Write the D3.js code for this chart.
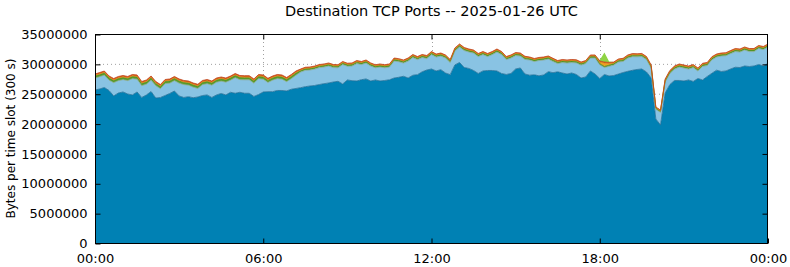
<!DOCTYPE html>
<meta charset="utf-8">
<style>
body { margin: 0; background: #fff; }
text { font-family: "DejaVu Sans", sans-serif; fill: #000; }
.title { font-size: 14.5px; }
.grid line { stroke: #a0a0a0; stroke-width: 1px; stroke-dasharray: 1,3; }
.frame { fill: none; stroke: #000; stroke-width: 1px; }
</style>
<body>
<script src="https://d3js.org/d3.v7.min.js"></script>
<script>

var width = 790,
    height = 267;
var margin = {top: 34, right: 22, bottom: 24, left: 95};

// 10 minute samples, values in millions of bytes per 300 s slot
var startTime = Date.UTC(2025, 0, 26, 0, 0);
var stepMinutes = 10;

var darkBlue = [
  25.62, 25.79, 26.04, 25.54, 24.62, 25.12, 25.29, 24.95, 24.79, 25.29,
  24.37, 24.79, 25.37, 24.28, 24.37, 24.70, 25.04, 25.45, 24.62, 24.37,
  24.50, 24.33, 24.45, 24.70, 24.79, 24.37, 24.79, 25.04, 24.79, 25.24,
  25.07, 25.24, 25.07, 25.07, 24.54, 24.87, 25.29, 25.34, 25.34, 25.54,
  25.54, 25.46, 25.74, 25.88, 26.01, 26.18, 26.29, 26.38, 26.54, 26.68,
  26.80, 26.96, 27.08, 26.63, 27.30, 27.18, 27.13, 27.35, 27.47, 27.13,
  27.30, 27.13, 27.22, 27.33, 27.63, 27.75, 27.92, 27.63, 28.09, 28.19,
  28.67, 28.97, 29.14, 28.81, 29.02, 28.47, 28.19, 29.81, 30.23, 29.39,
  29.23, 28.89, 28.39, 28.81, 28.89, 28.89, 28.81, 28.39, 28.22, 28.39,
  29.14, 29.31, 28.30, 28.10, 28.17, 28.00, 28.14, 28.69, 28.52, 28.67,
  28.47, 28.30, 28.47, 28.22, 27.63, 27.80, 28.81, 28.30, 27.55, 28.22,
  27.97, 28.05, 28.30, 28.55, 28.75, 28.92, 29.06, 29.14, 28.64, 27.63,
  20.77, 19.76, 25.12, 26.54, 27.22, 27.22, 27.13, 27.30, 27.05, 27.55,
  27.30, 27.89, 28.42, 28.94, 28.72, 28.81, 29.14, 29.43, 29.39, 29.64,
  29.56, 29.64, 29.89, 29.64, 30.09
];

var lightBlue = [
  1.98, 2.06, 2.06, 1.73, 2.23, 2.07, 2.06, 2.24, 2.73, 2.15,
  1.98, 1.81, 1.90, 2.07, 1.47, 1.98, 1.73, 1.74, 2.15, 2.15,
  1.93, 1.77, 1.43, 1.82, 1.89, 2.06, 2.14, 2.06, 2.14, 2.03,
  2.62, 2.11, 2.25, 2.25, 2.23, 2.65, 2.15, 1.54, 1.93, 1.98,
  1.90, 1.56, 1.78, 2.22, 2.61, 2.73, 2.67, 2.74, 2.83, 2.78,
  2.83, 2.41, 2.26, 3.25, 2.29, 2.45, 2.91, 2.53, 2.66, 2.50,
  2.04, 2.33, 2.12, 2.13, 2.83, 2.60, 2.21, 2.83, 2.96, 2.52,
  2.38, 1.91, 2.41, 2.32, 2.28, 2.50, 2.02, 2.33, 2.58, 2.83,
  2.74, 2.91, 2.83, 2.74, 2.33, 2.66, 3.16, 3.16, 2.49, 2.58,
  2.24, 1.99, 2.45, 2.53, 2.21, 2.55, 2.49, 2.11, 1.89, 1.37,
  1.74, 1.83, 1.74, 1.94, 2.16, 2.24, 2.16, 2.67, 2.28, 1.19,
  1.61, 1.74, 2.00, 1.86, 2.22, 2.28, 2.11, 2.08, 2.07, 1.66,
  1.61, 2.11, 1.83, 1.83, 1.90, 2.24, 2.16, 1.82, 2.32, 1.24,
  2.28, 1.82, 2.26, 2.19, 2.58, 2.54, 2.58, 2.62, 2.58, 2.67,
  2.49, 2.41, 2.67, 2.75, 2.72
];

var green = [
  0.35, 0.35, 0.35, 0.35, 0.35, 0.35, 0.35, 0.35, 0.35, 0.35,
  0.35, 0.35, 0.35, 0.35, 0.35, 0.35, 0.35, 0.35, 0.35, 0.35,
  0.35, 0.35, 0.35, 0.35, 0.35, 0.35, 0.35, 0.35, 0.35, 0.35,
  0.35, 0.35, 0.35, 0.35, 0.35, 0.35, 0.35, 0.35, 0.35, 0.35,
  0.35, 0.35, 0.35, 0.35, 0.25, 0.25, 0.25, 0.25, 0.25, 0.25,
  0.25, 0.25, 0.25, 0.25, 0.25, 0.25, 0.25, 0.25, 0.25, 0.25,
  0.25, 0.25, 0.25, 0.25, 0.25, 0.25, 0.25, 0.25, 0.25, 0.25,
  0.25, 0.25, 0.25, 0.25, 0.25, 0.25, 0.25, 0.25, 0.25, 0.25,
  0.25, 0.25, 0.25, 0.25, 0.25, 0.25, 0.25, 0.25, 0.25, 0.25,
  0.25, 0.25, 0.25, 0.25, 0.25, 0.25, 0.25, 0.25, 0.25, 0.25,
  0.25, 0.25, 0.25, 0.25, 0.25, 0.25, 0.25, 0.25, 0.20, 0.15,
  0.20, 0.25, 0.25, 0.25, 0.25, 0.25, 0.25, 0.25, 0.25, 0.25,
  0.20, 0.20, 0.25, 0.25, 0.25, 0.25, 0.25, 0.25, 0.25, 0.25,
  0.25, 0.25, 0.25, 0.25, 0.25, 0.25, 0.25, 0.25, 0.25, 0.25,
  0.25, 0.25, 0.25, 0.25, 0.25
];

var orange = [
  0.15, 0.15, 0.15, 0.15, 0.15, 0.15, 0.15, 0.15, 0.15, 0.15,
  0.15, 0.15, 0.15, 0.15, 0.15, 0.15, 0.15, 0.15, 0.15, 0.15,
  0.15, 0.15, 0.15, 0.15, 0.15, 0.15, 0.15, 0.15, 0.15, 0.15,
  0.15, 0.15, 0.15, 0.15, 0.15, 0.15, 0.15, 0.15, 0.15, 0.15,
  0.15, 0.15, 0.15, 0.15, 0.12, 0.12, 0.12, 0.12, 0.12, 0.12,
  0.12, 0.12, 0.12, 0.12, 0.12, 0.12, 0.12, 0.12, 0.12, 0.12,
  0.12, 0.12, 0.12, 0.12, 0.12, 0.12, 0.12, 0.12, 0.12, 0.12,
  0.12, 0.12, 0.12, 0.12, 0.12, 0.12, 0.12, 0.12, 0.12, 0.12,
  0.12, 0.12, 0.12, 0.12, 0.12, 0.12, 0.12, 0.12, 0.12, 0.12,
  0.12, 0.12, 0.12, 0.12, 0.12, 0.12, 0.12, 0.12, 0.12, 0.12,
  0.12, 0.12, 0.12, 0.12, 0.12, 0.12, 0.12, 0.12, 0.30, 0.60,
  0.30, 0.12, 0.12, 0.12, 0.12, 0.12, 0.12, 0.12, 0.12, 0.12,
  0.10, 0.10, 0.12, 0.12, 0.12, 0.12, 0.12, 0.12, 0.12, 0.12,
  0.12, 0.12, 0.12, 0.12, 0.12, 0.12, 0.12, 0.12, 0.12, 0.12,
  0.12, 0.12, 0.12, 0.12, 0.12
];

var red = [
  0.20, 0.20, 0.20, 0.20, 0.20, 0.20, 0.20, 0.20, 0.20, 0.20,
  0.20, 0.20, 0.20, 0.20, 0.20, 0.20, 0.20, 0.20, 0.20, 0.20,
  0.20, 0.20, 0.20, 0.20, 0.20, 0.20, 0.20, 0.20, 0.20, 0.20,
  0.20, 0.20, 0.20, 0.20, 0.20, 0.20, 0.20, 0.20, 0.20, 0.20,
  0.20, 0.20, 0.20, 0.20, 0.15, 0.15, 0.15, 0.15, 0.15, 0.15,
  0.15, 0.15, 0.15, 0.15, 0.15, 0.15, 0.15, 0.15, 0.15, 0.15,
  0.15, 0.15, 0.15, 0.15, 0.15, 0.15, 0.15, 0.15, 0.15, 0.15,
  0.15, 0.15, 0.15, 0.15, 0.15, 0.15, 0.15, 0.15, 0.15, 0.15,
  0.15, 0.15, 0.15, 0.15, 0.15, 0.15, 0.15, 0.15, 0.15, 0.15,
  0.15, 0.15, 0.15, 0.15, 0.15, 0.15, 0.15, 0.15, 0.15, 0.15,
  0.15, 0.15, 0.15, 0.15, 0.15, 0.15, 0.15, 0.15, 0.15, 0.15,
  0.15, 0.15, 0.15, 0.15, 0.15, 0.15, 0.15, 0.15, 0.15, 0.15,
  0.10, 0.10, 0.15, 0.15, 0.15, 0.15, 0.15, 0.15, 0.15, 0.15,
  0.15, 0.15, 0.15, 0.15, 0.15, 0.15, 0.15, 0.15, 0.15, 0.15,
  0.15, 0.15, 0.15, 0.15, 0.15
];

var lightGreen = [
  0, 0, 0, 0, 0, 0, 0, 0, 0, 0,
  0, 0, 0, 0, 0, 0, 0, 0, 0, 0,
  0, 0, 0, 0, 0, 0, 0, 0, 0, 0,
  0, 0, 0, 0, 0, 0, 0, 0, 0, 0,
  0, 0, 0, 0, 0, 0, 0, 0, 0, 0,
  0, 0, 0, 0, 0, 0, 0, 0, 0, 0,
  0, 0, 0, 0, 0, 0, 0, 0, 0, 0,
  0, 0, 0, 0, 0, 0, 0, 0, 0, 0,
  0, 0, 0, 0, 0, 0, 0, 0, 0, 0,
  0, 0, 0, 0, 0, 0, 0, 0, 0, 0,
  0, 0, 0, 0, 0, 0, 0, 0, 0.15, 1.60,
  0.15, 0, 0, 0, 0, 0, 0, 0, 0, 0,
  0, 0, 0, 0, 0, 0, 0, 0, 0, 0,
  0, 0, 0, 0, 0, 0, 0, 0, 0, 0,
  0, 0, 0, 0, 0
];

var seriesKeys = ["darkBlue", "lightBlue", "green", "orange", "red", "lightGreen"];
var seriesFill = {
  darkBlue: "#0081b4", lightBlue: "#89c3e3", green: "#5a9e2a",
  orange: "#f0a020", red: "#d0501a", lightGreen: "#8fd444"
};
var seriesEdge = {
  darkBlue: "#1f6f98", lightBlue: "#8aa9a0", green: "#4a8a20",
  orange: "#e08010", red: "#c0441a", lightGreen: "#78c030"
};
var yTicks = [0, 5e6, 10e6, 15e6, 20e6, 25e6, 30e6, 35e6];

var rows = darkBlue.map(function(d, i) {
  return {
    time: new Date(startTime + i * stepMinutes * 60000),
    darkBlue: d * 1e6, lightBlue: lightBlue[i] * 1e6, green: green[i] * 1e6,
    orange: orange[i] * 1e6, red: red[i] * 1e6, lightGreen: lightGreen[i] * 1e6
  };
});

var x = d3.scaleUtc()
    .domain([new Date(startTime), new Date(startTime + 24 * 3600000)])
    .range([margin.left, width - margin.right]);

var y = d3.scaleLinear()
    .domain([0, 35e6])
    .range([height - margin.bottom, margin.top]);

var svg = d3.select("body").append("svg")
    .attr("width", width)
    .attr("height", height);

var xTicks = x.ticks(d3.utcHour.every(6));

// grid behind everything
var grid = svg.append("g").attr("class", "grid");
grid.selectAll(".gy").data(yTicks.slice(1, -1)).enter().append("line")
    .attr("x1", margin.left).attr("x2", width - margin.right)
    .attr("y1", function(d) { return y(d) + 0.5; })
    .attr("y2", function(d) { return y(d) + 0.5; });
grid.selectAll(".gx").data(xTicks.slice(1, -1)).enter().append("line")
    .attr("y1", margin.top).attr("y2", height - margin.bottom)
    .attr("x1", function(d) { return Math.round(x(d)) + 0.5; })
    .attr("x2", function(d) { return Math.round(x(d)) + 0.5; });

var stack = d3.stack().keys(seriesKeys);
var layers = stack(rows);

var area = d3.area()
    .x(function(d) { return x(d.data.time); })
    .y0(function(d) { return y(d[0]); })
    .y1(function(d) { return y(d[1]); });

var edge = d3.line()
    .x(function(d) { return x(d.data.time); })
    .y(function(d) { return y(d[1]); });

svg.append("g").selectAll("path")
    .data(layers)
    .enter().append("path")
    .attr("d", area)
    .style("fill", function(d) { return seriesFill[d.key]; });

svg.append("g").selectAll("path")
    .data(layers.slice(0, 5))
    .enter().append("path")
    .attr("d", edge)
    .style("fill", "none")
    .style("stroke", function(d) { return seriesEdge[d.key]; })
    .style("stroke-width", 0.8);

// frame
svg.append("rect").attr("class", "frame")
    .attr("x", margin.left + 0.5).attr("y", margin.top + 0.5)
    .attr("width", width - margin.left - margin.right - 1)
    .attr("height", height - margin.top - margin.bottom);

// axes, ticks pointing inward, mirrored
var yAxis = d3.axisLeft(y).tickValues(yTicks).tickSize(-5).tickPadding(8)
    .tickFormat(d3.format("d"));
svg.append("g").attr("transform", "translate(" + (margin.left + 0.5) + ",0.5)")
    .call(yAxis).call(function(g) { g.select(".domain").remove(); });

svg.append("g").attr("transform", "translate(" + (width - margin.right - 0.5) + ",0.5)")
    .call(d3.axisRight(y).tickValues(yTicks.slice(1, -1)).tickSize(-5).tickFormat(""))
    .call(function(g) { g.select(".domain").remove(); });

var xAxis = d3.axisBottom(x).tickValues(xTicks).tickSize(-5).tickPadding(10)
    .tickFormat(d3.utcFormat("%H:%M"));
svg.append("g").attr("transform", "translate(0," + (height - margin.bottom + 0.5) + ")")
    .call(xAxis).call(function(g) { g.select(".domain").remove(); });

svg.append("g").attr("transform", "translate(0," + (margin.top + 0.5) + ")")
    .call(d3.axisTop(x).tickValues(xTicks.slice(1, -1)).tickSize(-5).tickFormat(""))
    .call(function(g) { g.select(".domain").remove(); });

svg.selectAll(".tick line").attr("stroke", "#000");
svg.selectAll(".tick text").attr("font-family", "DejaVu Sans").attr("font-size", 13);

svg.append("text")
    .attr("class", "title")
    .attr("x", (margin.left + width - margin.right) / 2)
    .attr("y", 16)
    .attr("text-anchor", "middle")
    .text("Destination TCP Ports -- 2025-01-26 UTC");

svg.append("text")
    .attr("transform", "translate(15," + ((margin.top + height - margin.bottom) / 2) + ") rotate(-90)")
    .attr("text-anchor", "middle")
    .style("font-size", "12px")
    .text("Bytes per time slot (300 s)");

</script>
</body>
